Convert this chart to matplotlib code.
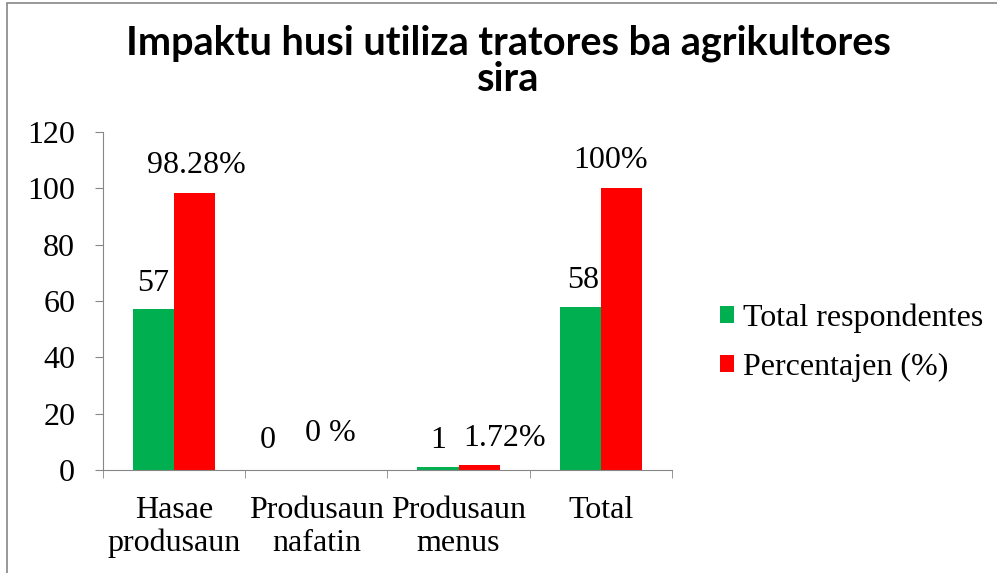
import numpy as np
import matplotlib.pyplot as plt
from matplotlib.patches import Rectangle

# data
categories = ["Hasae\nprodusaun", "Produsaun\nnafatin", "Produsaun\nmenus", "Total"]
respondentes = [57, 0, 1, 58]
percentajen = [98.28, 0, 1.72, 100]
resp_labels = ["57", "0", "1", "58"]
perc_labels = ["98.28%", "0 %", "1.72%", "100%"]
yticks = [0, 20, 40, 60, 80, 100, 120]

green = "#00B050"
red = "#FF0000"
fs = 23

plt.rcParams['font.family'] = ['Liberation Serif', 'DejaVu Serif']

fig = plt.figure(figsize=(9.97, 5.73), dpi=100)
ax = fig.add_axes([0.1033, 0.1798, 0.5707, 0.5898])

x = np.arange(len(categories))
w = 0.29
b1 = ax.bar(x - w / 2, respondentes, w, color=green, label="Total respondentes")
b2 = ax.bar(x + w / 2, percentajen, w, color=red, label="Percentajen (%)")

# label offsets in points (hand placed like the original)
off1 = [(0, 19), (-20, 21), (0, 19), (2, 19)]
off2 = [(1, 20), (-5, 26), (18, 19), (-8, 20)]
for i in range(len(x)):
    ax.annotate(resp_labels[i], (x[i] - w / 2, respondentes[i]), xytext=off1[i],
                textcoords="offset points", ha="center", va="center", fontsize=fs)
    ax.annotate(perc_labels[i], (x[i] + w / 2, percentajen[i]), xytext=off2[i],
                textcoords="offset points", ha="center", va="center", fontsize=fs)

ax.set_xlim(-0.5, 3.5)
ax.set_ylim(0, 120)
ax.set_yticks(yticks)
ax.set_xticks(x)
ax.set_xticklabels(categories, fontsize=fs, linespacing=1.15)
ax.set_xticks(np.arange(-0.5, 4, 1), minor=True)
ax.tick_params(axis="x", which="major", length=0, pad=19)
ax.tick_params(axis="x", which="minor", length=6, color="#868686")
ax.tick_params(axis="y", labelsize=fs, length=6, color="#868686", pad=14)

for s in ["top", "right"]:
    ax.spines[s].set_visible(False)
for s in ["left", "bottom"]:
    ax.spines[s].set_color("#868686")

ax.legend(loc="center left", bbox_to_anchor=(1.033, 0.377), frameon=False, fontsize=fs,
          handlelength=0.45, handleheight=0.45, handletextpad=0.3, labelspacing=0.62)

fig.text(0.51, 0.893, "Impaktu husi utiliza tratores ba agrikultores\nsira", ha="center",
         va="center", fontsize=28.5, fontweight="bold", family="Lato", linespacing=0.95)

fig.patches.append(Rectangle((7 / 997, -0.1), 1.5, 1.1 - 3 / 573, transform=fig.transFigure,
                             fill=False, edgecolor="#868686", linewidth=1.2))

fig.savefig("out.png", dpi=100)
